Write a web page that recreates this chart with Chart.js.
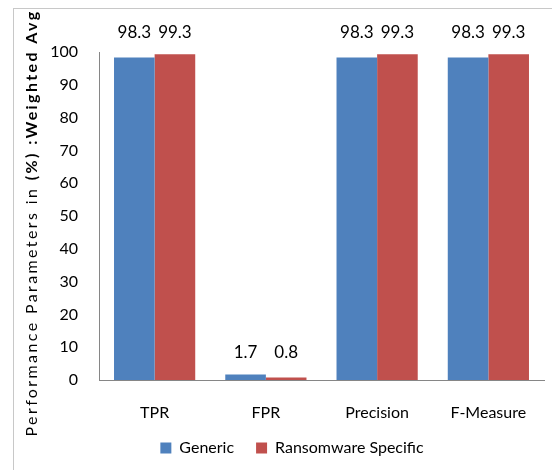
<!DOCTYPE html>
<html>
<head>
<meta charset="utf-8">
<script src="https://cdn.jsdelivr.net/npm/chart.js@4.4.1/dist/chart.umd.min.js"></script>
<style>
html,body{margin:0;padding:0;background:#fff;}
#wrap{position:relative;width:552px;height:470px;}
#frame{position:absolute;left:13px;top:8px;width:560px;height:480px;border-left:1px solid #c8c8c8;border-top:1px solid #c8c8c8;}
canvas{position:absolute;left:0;top:0;}
</style>
</head>
<body>
<div id="wrap">
<div id="frame"></div>
<canvas id="c" width="552" height="470"></canvas>
</div>
<script>
const categories = ["TPR", "FPR", "Precision", "F-Measure"];
const genericValues = [98.3, 1.7, 98.3, 98.3];
const ransomwareValues = [99.3, 0.8, 99.3, 99.3];
const yTicks = [0, 10, 20, 30, 40, 50, 60, 70, 80, 90, 100];
const seriesNames = ["Generic", "Ransomware Specific"];
const titleNormal = "Performance Parameters in ";
const titleBold = "(%) :Weighted Avg";

const FONT = "Lato";

const labelPlugin = {
  id: "valueLabels",
  afterDatasetsDraw(chart) {
    const ctx = chart.ctx;
    ctx.save();
    ctx.font = "17px " + FONT;
    ctx.fillStyle = "#000";
    ctx.textAlign = "center";
    ctx.textBaseline = "middle";
    const metas = chart.data.datasets.map((ds, i) => chart.getDatasetMeta(i));
    chart.data.datasets.forEach((ds, i) => {
      metas[i].data.forEach((bar, j) => {
        const topY = Math.min(...metas.map(m => m.data[j].y));
        ctx.fillText(String(ds.data[j]), bar.x, topY - 22);
      });
    });
    ctx.restore();
  }
};

const titlePlugin = {
  id: "mixedTitle",
  afterDraw(chart) {
    const ctx = chart.ctx;
    const target = 427;
    ctx.save();
    ctx.translate(32, 223);
    ctx.rotate(-Math.PI / 2);
    ctx.textBaseline = "middle";
    ctx.fillStyle = "#000";
    ctx.letterSpacing = "0px";
    ctx.font = "16px " + FONT;
    let w1 = ctx.measureText(titleNormal).width;
    ctx.font = "bold 16px " + FONT;
    let w2 = ctx.measureText(titleBold).width;
    const n = titleNormal.length + titleBold.length;
    const ls = Math.max(0, (target - w1 - w2) / n);
    ctx.letterSpacing = ls + "px";
    ctx.font = "16px " + FONT;
    w1 = ctx.measureText(titleNormal).width;
    ctx.font = "bold 16px " + FONT;
    w2 = ctx.measureText(titleBold).width;
    const x = -(w1 + w2) / 2;
    ctx.textAlign = "left";
    ctx.font = "16px " + FONT;
    ctx.fillText(titleNormal, x, 0);
    ctx.font = "bold 16px " + FONT;
    ctx.fillText(titleBold, x + w1, 0);
    ctx.restore();
  }
};

const legendShift = {
  id: "legendShift",
  afterLayout(chart) {
    if (chart.legend) {
      chart.legend.left += 20;
      chart.legend.right += 20;
    }
  }
};

new Chart(document.getElementById("c"), {
  type: "bar",
  data: {
    labels: categories,
    datasets: [
      { label: seriesNames[0], data: genericValues, backgroundColor: "#4F81BD" },
      { label: seriesNames[1], data: ransomwareValues, backgroundColor: "#C0504D" }
    ]
  },
  plugins: [labelPlugin, titlePlugin, legendShift],
  options: {
    responsive: false,
    animation: false,
    layout: { padding: { top: 52, right: 8, left: 0, bottom: 4 } },
    datasets: { bar: { categoryPercentage: 0.73, barPercentage: 1.0 } },
    plugins: {
      legend: {
        position: "bottom",
        labels: {
          font: { family: FONT, size: 16 },
          color: "#000",
          boxWidth: 11,
          boxHeight: 11,
          padding: 22
        }
      },
      tooltip: { enabled: false }
    },
    scales: {
      x: {
        grid: { display: false, drawTicks: false },
        border: { color: "#868686", width: 1 },
        ticks: { font: { family: FONT, size: 16 }, color: "#000", padding: 23 },
        afterFit(scale) { scale.height = 38; }
      },
      y: {
        min: 0,
        max: 100,
        afterBuildTicks(scale) { scale.ticks = yTicks.map(v => ({ value: v })); },
        grid: { display: false, drawTicks: false },
        border: { color: "#868686", width: 1 },
        ticks: { font: { family: FONT, size: 16 }, color: "#000", padding: 21 },
        afterFit(scale) { scale.width = 99; }
      }
    }
  }
});
</script>
</body>
</html>
